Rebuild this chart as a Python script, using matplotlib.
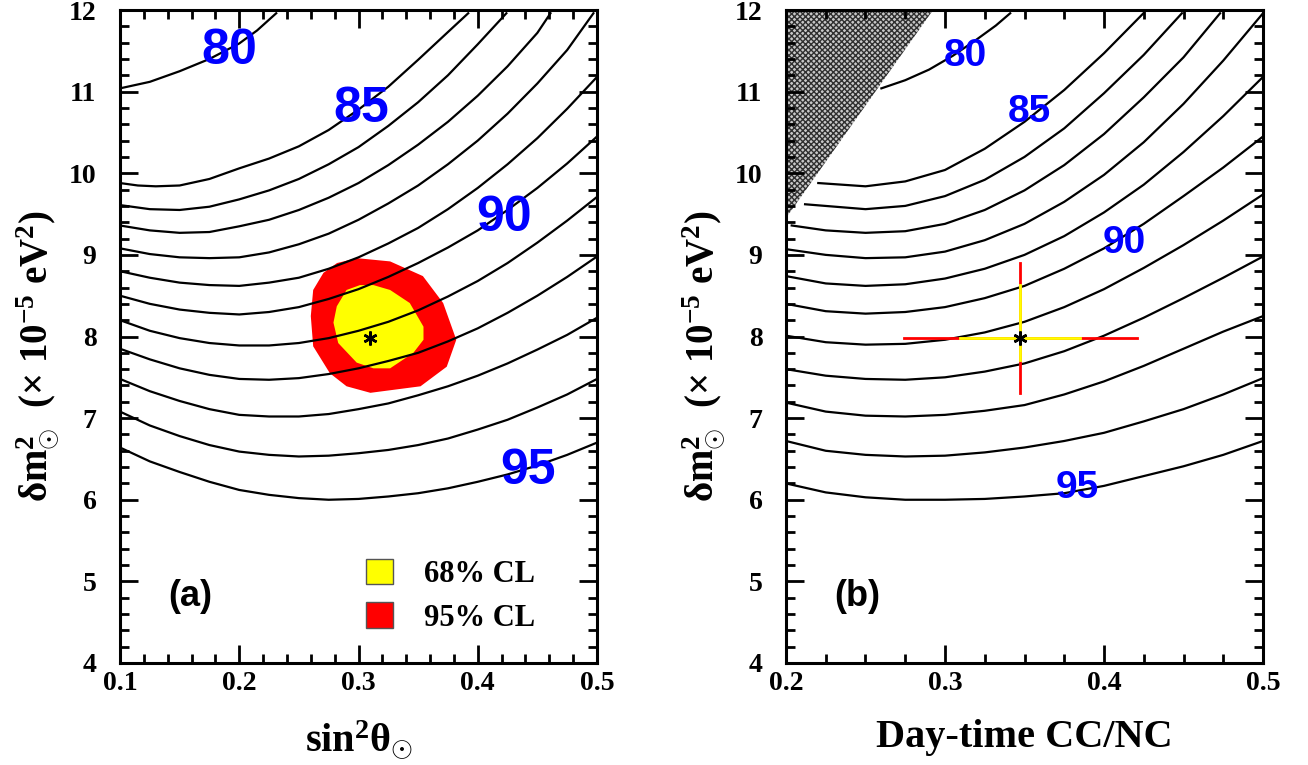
import matplotlib
matplotlib.use("Agg")
import matplotlib.pyplot as plt
from matplotlib.patches import Patch
from matplotlib.ticker import MultipleLocator

plt.rcParams['font.family'] = ['Liberation Serif', 'DejaVu Serif']
plt.rcParams['font.weight'] = 'bold'
plt.rcParams['axes.labelweight'] = 'bold'
plt.rcParams['mathtext.fontset'] = 'custom'
plt.rcParams['mathtext.rm'] = 'Liberation Serif:bold'
plt.rcParams['mathtext.it'] = 'Liberation Serif:bold'
plt.rcParams['mathtext.bf'] = 'Liberation Serif:bold'

# contour levels (same set in both panels)
levels = [80, 85, 86, 87, 88, 89, 90, 91, 92, 93, 94, 95]

# panel (a): iso-lines in the (sin^2 theta, dm^2) plane
grid_a = [0.1, 0.125, 0.15, 0.175, 0.2, 0.225, 0.25, 0.275, 0.3,
          0.325, 0.35, 0.375, 0.4, 0.425, 0.45, 0.475, 0.5]
sin2_a = [
    [0.1, 0.125, 0.15, 0.175, 0.2, 0.215, 0.231],
    [0.1, 0.115, 0.13, 0.15, 0.175, 0.2, 0.225, 0.25, 0.275, 0.3, 0.325, 0.35, 0.375, 0.392],
    grid_a[:13] + [0.424],
    grid_a[:15] + [0.461],
    grid_a[:16] + [0.497],
] + [grid_a] * 7
dm2_a = [
    [11.04, 11.12, 11.25, 11.40, 11.59, 11.75, 11.96],
    [9.88, 9.85, 9.84, 9.85, 9.93, 10.06, 10.18, 10.33, 10.53, 10.78, 11.06, 11.39, 11.73, 11.96],
    [9.61, 9.56, 9.55, 9.59, 9.68, 9.79, 9.93, 10.11, 10.32, 10.58, 10.87, 11.20, 11.58, 11.96],
    [9.36, 9.30, 9.27, 9.28, 9.35, 9.43, 9.55, 9.70, 9.88, 10.10, 10.35, 10.63, 10.95, 11.31, 11.72, 11.96],
    [9.08, 9.01, 8.97, 8.96, 8.97, 9.03, 9.13, 9.26, 9.43, 9.63, 9.85, 10.11, 10.40, 10.73, 11.10, 11.51, 11.96],
    [8.80, 8.72, 8.66, 8.63, 8.62, 8.66, 8.72, 8.83, 8.97, 9.14, 9.33, 9.56, 9.82, 10.11, 10.43, 10.79, 11.18],
    [8.50, 8.40, 8.33, 8.29, 8.27, 8.30, 8.36, 8.46, 8.58, 8.73, 8.90, 9.09, 9.30, 9.55, 9.82, 10.12, 10.45],
    [8.20, 8.07, 7.98, 7.92, 7.89, 7.89, 7.92, 7.98, 8.07, 8.18, 8.32, 8.49, 8.68, 8.90, 9.15, 9.42, 9.71],
    [7.85, 7.72, 7.61, 7.53, 7.48, 7.47, 7.49, 7.54, 7.61, 7.70, 7.80, 7.94, 8.10, 8.29, 8.50, 8.73, 8.98],
    [7.48, 7.33, 7.21, 7.11, 7.04, 7.02, 7.02, 7.05, 7.11, 7.18, 7.28, 7.39, 7.52, 7.67, 7.84, 8.02, 8.23],
    [7.08, 6.91, 6.78, 6.67, 6.59, 6.55, 6.53, 6.54, 6.57, 6.61, 6.67, 6.75, 6.86, 6.98, 7.13, 7.29, 7.48],
    [6.64, 6.47, 6.34, 6.22, 6.12, 6.06, 6.02, 6.00, 6.01, 6.04, 6.08, 6.14, 6.22, 6.31, 6.42, 6.55, 6.70],
]

# allowed regions from the fit
cl95_sin2 = [0.2985, 0.3265, 0.354, 0.371, 0.382, 0.374, 0.352, 0.31, 0.29,
             0.276, 0.262, 0.26, 0.262, 0.2706, 0.282]
cl95_dm2 = [8.96, 8.92, 8.74, 8.41, 7.96, 7.63, 7.39, 7.31, 7.39,
            7.55, 7.88, 8.25, 8.57, 8.78, 8.90]
cl68_sin2 = [0.3013, 0.3125, 0.3265, 0.343, 0.3545, 0.3545, 0.346, 0.3265,
             0.3125, 0.2985, 0.283, 0.279, 0.2818, 0.29]
cl68_dm2 = [8.63, 8.63, 8.57, 8.41, 8.12, 7.96, 7.80, 7.61,
            7.61, 7.68, 7.92, 8.17, 8.37, 8.57]
best_sin2, best_dm2 = 0.31, 7.98

# panel (b): same iso-lines against the day-time CC/NC ratio
grid_b = [0.2, 0.225, 0.25, 0.275, 0.3, 0.325, 0.35, 0.375, 0.4, 0.425, 0.45, 0.475, 0.5]
ccnc_b = [
    [0.260, 0.275, 0.29, 0.305, 0.32, 0.332, 0.341],
    [0.2203, 0.25, 0.275, 0.3, 0.325, 0.35, 0.375, 0.4, 0.4248],
    [0.212, 0.25, 0.275, 0.3, 0.325, 0.35, 0.375, 0.4, 0.425, 0.449],
    [0.2036, 0.225, 0.25, 0.275, 0.3, 0.325, 0.35, 0.375, 0.4, 0.425, 0.45, 0.473],
] + [grid_b] * 8
dm2_b = [
    [11.04, 11.14, 11.27, 11.44, 11.64, 11.81, 11.96],
    [9.88, 9.84, 9.90, 10.04, 10.30, 10.63, 11.02, 11.47, 11.96],
    [9.62, 9.56, 9.60, 9.72, 9.92, 10.20, 10.55, 10.98, 11.45, 11.96],
    [9.36, 9.30, 9.27, 9.29, 9.38, 9.55, 9.79, 10.10, 10.48, 10.93, 11.42, 11.96],
    [9.07, 9.00, 8.96, 8.97, 9.04, 9.18, 9.38, 9.65, 9.98, 10.38, 10.85, 11.38, 11.96],
    [8.74, 8.65, 8.62, 8.64, 8.71, 8.83, 9.00, 9.23, 9.52, 9.86, 10.26, 10.70, 11.18],
    [8.40, 8.31, 8.28, 8.30, 8.36, 8.47, 8.62, 8.83, 9.08, 9.38, 9.72, 10.07, 10.45],
    [8.01, 7.93, 7.90, 7.91, 7.96, 8.05, 8.18, 8.36, 8.58, 8.84, 9.12, 9.42, 9.74],
    [7.60, 7.52, 7.48, 7.47, 7.50, 7.57, 7.67, 7.82, 8.01, 8.23, 8.47, 8.72, 8.98],
    [7.19, 7.08, 7.03, 7.02, 7.04, 7.09, 7.16, 7.29, 7.45, 7.64, 7.85, 8.06, 8.25],
    [6.72, 6.60, 6.55, 6.53, 6.54, 6.58, 6.64, 6.72, 6.82, 6.96, 7.11, 7.29, 7.49],
    [6.20, 6.09, 6.03, 6.00, 6.00, 6.01, 6.04, 6.08, 6.17, 6.29, 6.41, 6.55, 6.72],
]
# region not reachable for sin^2 theta >= 0.1
excl_ccnc = [0.2, 0.2, 0.2923]
excl_dm2 = [9.45, 12.0, 12.0]

best_ccnc = 0.347
ccnc_68 = [0.3095, 0.385]
ccnc_95 = [0.274, 0.421]
dm2_68 = [7.71, 8.63]
dm2_95 = [7.31, 8.90]

# contour label positions
lab_a = {80: (0.192, 11.50), 85: (0.302, 10.79), 90: (0.422, 9.45), 95: (0.442, 6.35)}
lab_b = {80: (0.3126, 11.44), 85: (0.353, 10.75), 90: (0.413, 9.15), 95: (0.383, 6.15)}

ylab = r'$\delta$m$^{2}_{\odot}$  ($\times$ 10$^{-5}$ eV$^{2}$)'

fig = plt.figure(figsize=(13.08, 7.65), dpi=100)
ax1 = fig.add_axes([120 / 1308, 102 / 765, 477 / 1308, 653 / 765])
ax2 = fig.add_axes([786 / 1308, 102 / 765, 477 / 1308, 653 / 765])


def style(ax, xlo, xhi, xminor):
    ax.set_xlim(xlo, xhi)
    ax.set_ylim(4, 12)
    ax.xaxis.set_major_locator(MultipleLocator(0.1))
    ax.xaxis.set_minor_locator(MultipleLocator(xminor))
    ax.yaxis.set_major_locator(MultipleLocator(1))
    ax.yaxis.set_minor_locator(MultipleLocator(0.2))
    ax.tick_params(which='both', direction='in', top=True, right=True, width=2)
    ax.tick_params(which='major', length=13)
    ax.tick_params(which='minor', length=6.5)
    ax.tick_params(axis='y', pad=17, labelsize=20)
    ax.tick_params(axis='x', pad=6, labelsize=20)
    for s in ax.spines.values():
        s.set_linewidth(2.2)
    ax.set_ylabel(ylab, fontsize=28)
    ax.yaxis.set_label_coords(-0.125, 0.47)


# ---- panel (a)
style(ax1, 0.1, 0.5, 0.02)
ax1.fill(cl95_sin2, cl95_dm2, color='red', lw=0, zorder=1)
ax1.fill(cl68_sin2, cl68_dm2, color='yellow', lw=0, zorder=2)
for xs, ys in zip(sin2_a, dm2_a):
    ax1.plot(xs, ys, color='k', lw=1.6, zorder=3, solid_joinstyle='round')
ax1.plot(best_sin2, best_dm2, marker=(6, 2, 0), ms=10, mew=1.8, color='k', zorder=4)
for lev, (x, y) in lab_a.items():
    ax1.text(x, y, str(lev), color='blue', fontsize=36, fontweight='bold',
             family='Liberation Sans', ha='center', va='center', zorder=5)
ax1.text(0.159, 4.81, '(a)', fontsize=26, fontweight='bold',
         family='Liberation Sans', ha='center', va='center')
ax1.set_xlabel(r'sin$^{2}\theta_{\odot}$', fontsize=29)
ax1.xaxis.set_label_coords(0.5, -0.085)
handles = [Patch(facecolor='yellow', edgecolor='#555555', label='68% CL'),
           Patch(facecolor='red', edgecolor='#555555', label='95% CL')]
ax1.legend(handles=handles, loc='upper left', bbox_to_anchor=(0.515, 0.16),
           frameon=False, fontsize=22, handlelength=0.9, handleheight=0.9,
           handletextpad=1.0, labelspacing=0.45, borderpad=0, borderaxespad=0)

# ---- panel (b)
style(ax2, 0.2, 0.5, 0.025)
ax2.fill(excl_ccnc, excl_dm2, facecolor='#c8c8c8', edgecolor='#303030',
         hatch='xxxxxx', lw=0, zorder=1)
for xs, ys in zip(ccnc_b, dm2_b):
    ax2.plot(xs, ys, color='k', lw=1.6, zorder=3, solid_joinstyle='round')
ax2.plot(ccnc_95, [best_dm2, best_dm2], color='red', lw=2, zorder=4)
ax2.plot([best_ccnc, best_ccnc], dm2_95, color='red', lw=2, zorder=4)
ax2.plot(ccnc_68, [best_dm2, best_dm2], color='yellow', lw=2, zorder=5)
ax2.plot([best_ccnc, best_ccnc], dm2_68, color='yellow', lw=2, zorder=5)
ax2.plot(best_ccnc, best_dm2, marker=(6, 2, 0), ms=10, mew=1.8, color='k', zorder=6)
for lev, (x, y) in lab_b.items():
    ax2.text(x, y, str(lev), color='blue', fontsize=28, fontweight='bold',
             family='Liberation Sans', ha='center', va='center', zorder=5)
ax2.text(0.2445, 4.81, '(b)', fontsize=26, fontweight='bold',
         family='Liberation Sans', ha='center', va='center')
ax2.set_xlabel('Day-time CC/NC', fontsize=29)
ax2.xaxis.set_label_coords(0.5, -0.085)

fig.savefig('out.png', dpi=100)
